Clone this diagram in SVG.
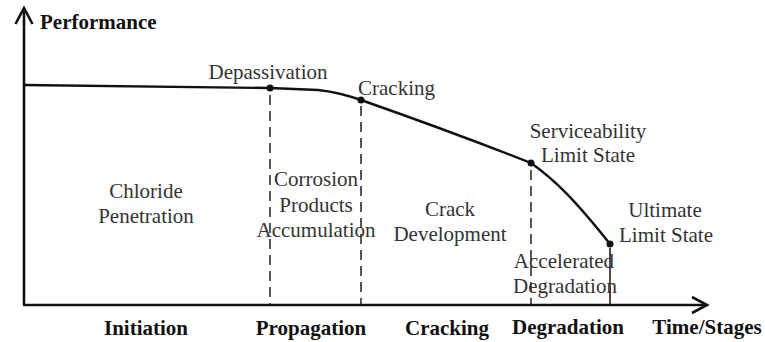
<svg xmlns="http://www.w3.org/2000/svg" width="765" height="342" viewBox="0 0 765 342">
<style>
.t{font-family:"Liberation Serif","Times New Roman",serif;font-size:21px;fill:#333;text-anchor:middle}
.b{font-family:"Liberation Serif","Times New Roman",serif;font-size:21px;font-weight:bold;fill:#111;text-anchor:middle}
.ax{stroke:#111;stroke-width:2.6;fill:none}
.dash{stroke:#222;stroke-width:1.5;stroke-dasharray:10 6;fill:none}
.curve{stroke:#111;stroke-width:2.4;fill:none}
.dot{fill:#111}
</style>
<rect width="765" height="342" fill="#fff"/>
<g id="axes">
<line class="ax" x1="24" y1="305" x2="24" y2="9"/>
<polyline class="ax" points="15.5,24 24,8 32.5,24"/>
<line class="ax" x1="23" y1="305" x2="707" y2="305"/>
<polyline class="ax" points="692,297 707,305 692,313"/>
<text class="b" x="40" y="29" style="text-anchor:start">Performance</text>
<text class="b" x="707" y="334">Time/Stages</text>
</g>
<g id="connectors">
<path class="curve" d="M24,85 L270,88 L318,90 Q338,92 361,100 Q455,133 531,163 C555,180 575,200 610,244"/>
<line class="dash" x1="270" y1="95" x2="270" y2="305"/>
<line class="dash" x1="361" y1="106" x2="361" y2="305"/>
<line class="dash" x1="531" y1="170" x2="531" y2="305"/>
<line class="ax" style="stroke-width:1.5" x1="610" y1="248" x2="610" y2="305"/>
</g>
<g id="depassivation"><circle class="dot" cx="270" cy="88" r="3.5"/><text class="t" x="268" y="79">Depassivation</text></g>
<g id="cracking-point"><circle class="dot" cx="361" cy="100" r="3.5"/><text class="t" x="358" y="95" style="text-anchor:start">Cracking</text></g>
<g id="sls"><circle class="dot" cx="531" cy="163" r="3.5"/><text class="t" x="588" y="138">Serviceability</text><text class="t" x="588" y="162">Limit State</text></g>
<g id="uls"><circle class="dot" cx="610" cy="244" r="3.5"/><text class="t" x="665" y="217">Ultimate</text><text class="t" x="666" y="242">Limit State</text></g>
<g id="chloride"><text class="t" x="146" y="198">Chloride</text><text class="t" x="146" y="223">Penetration</text></g>
<g id="corrosion"><text class="t" x="316" y="186">Corrosion</text><text class="t" x="316" y="212">Products</text><text class="t" x="316" y="237">Accumulation</text></g>
<g id="crack-dev"><text class="t" x="450" y="216">Crack</text><text class="t" x="450" y="241">Development</text></g>
<g id="accel"><text class="t" x="564" y="268">Accelerated</text><text class="t" x="565" y="293">Degradation</text></g>
<g id="stages">
<text class="b" x="146" y="335">Initiation</text>
<text class="b" x="311" y="335">Propagation</text>
<text class="b" x="447" y="335">Cracking</text>
<text class="b" x="568" y="334">Degradation</text>
</g>
</svg>
